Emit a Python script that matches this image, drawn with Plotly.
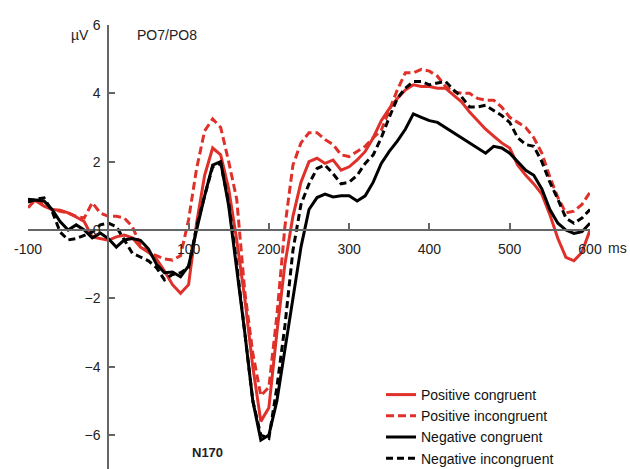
import plotly.graph_objects as go

times = list(range(-100, 601, 10))

pos_congruent = [0.85, 0.85, 0.7, 0.6, 0.58, 0.5, 0.38, 0.25, -0.2, -0.25,
                 -0.3, -0.2, -0.15, -0.23, -0.5, -0.65, -0.85, -1.2, -1.6, -1.85,
                 -1.6, 0.2, 1.6, 2.4, 2.2, 1.2, -0.3, -2.0, -4.0, -5.6,
                 -5.2, -3.0, -1.0, 0.4, 1.4, 2.0, 2.1, 1.95, 2.05, 1.75,
                 1.85, 2.05, 2.3, 2.7, 3.2, 3.55, 3.85, 4.1, 4.25, 4.2,
                 4.2, 4.15, 4.15, 3.95, 3.75, 3.45, 3.2, 2.95, 2.75, 2.55,
                 2.4, 1.9, 1.6, 1.35, 1.05, 0.45, -0.25, -0.8, -0.9, -0.65,
                 0.0]

pos_incongruent = [0.65, 0.9, 0.75, 0.6, 0.55, 0.5, 0.4, 0.35, 0.8, 0.5,
                   0.4, 0.4, 0.35, 0.1, -0.45, -0.65, -0.75, -0.85, -0.88, -0.75,
                   0.3, 1.8, 2.9, 3.25, 3.0, 2.0, 0.9, -1.8, -3.6, -4.85,
                   -4.6, -2.5, 0.1, 1.9, 2.55, 2.85, 2.85, 2.65, 2.5, 2.2,
                   2.15, 2.3, 2.45, 2.7, 2.92, 3.5, 4.1, 4.6, 4.6, 4.7,
                   4.65, 4.5, 4.2, 4.05, 4.0, 4.0, 3.85, 3.8, 3.8, 3.6,
                   3.3, 3.15, 3.0, 2.7, 2.25, 1.55, 0.95, 0.5, 0.55, 0.75,
                   1.1]

neg_congruent = [0.9, 0.88, 0.85, 0.6, 0.25, 0.0, 0.15, 0.0, -0.23, -0.09,
                 -0.25, -0.5, -0.29, -0.25, -0.3, -0.55, -1.0, -1.25, -1.23, -1.37,
                 -1.05, 0.0, 1.0, 1.9, 2.0, 0.7, -1.1, -3.0, -5.0, -6.15,
                 -6.0, -5.0, -3.5, -2.0, -0.5, 0.6, 0.95, 1.05, 0.97, 1.0,
                 1.0, 0.85, 1.0, 1.4, 1.95, 2.3, 2.6, 2.95, 3.4, 3.3,
                 3.2, 3.15, 3.0, 2.85, 2.7, 2.55, 2.4, 2.25, 2.45, 2.4,
                 2.25, 2.0, 1.75, 1.6, 1.2, 0.6, 0.2, 0.0, -0.1, -0.05,
                 0.2]

neg_incongruent = [0.82, 0.9, 0.94, 0.55, -0.06, -0.29, -0.25, -0.15, -0.06, 0.15,
                   0.2, 0.1, -0.3, -0.68, -0.79, -0.9, -1.1, -1.46, -1.3, -1.25,
                   -1.1, 0.1, 1.0, 1.85, 1.95, 0.8, -1.0, -3.0, -5.0, -6.0,
                   -6.1, -4.6, -2.8, -0.6, 0.75, 1.35, 1.8, 1.9, 1.65, 1.35,
                   1.4, 1.6, 1.95, 2.2, 2.7, 3.3, 3.85, 4.15, 4.35, 4.35,
                   4.25, 4.3, 4.35, 4.1, 3.9, 3.6, 3.6, 3.65, 3.5, 3.35,
                   3.15, 2.7, 2.5, 2.45, 2.0, 1.4, 0.9, 0.35, 0.2, 0.35,
                   0.6]

series_names = ["Positive congruent", "Positive incongruent",
                "Negative congruent", "Negative incongruent"]
x_tickvals = [-100, 100, 200, 300, 400, 500, 600]
x_ticktext = ["-100", "100", "200", "300", "400", "500", "600"]
y_tickvals = [-6, -4, -2, 0, 2, 4, 6]

RED = "#e0302a"
BLACK = "#000000"
FONT = "Liberation Sans, Arial, sans-serif"

W, H = 630, 469
styles = [
    dict(color=RED, width=3, dash="solid"),
    dict(color=RED, width=3, dash="8px,4px"),
    dict(color=BLACK, width=3, dash="solid"),
    dict(color=BLACK, width=3, dash="7px,4px"),
]
values = [pos_congruent, pos_incongruent, neg_congruent, neg_incongruent]

fig = go.Figure()
for name, vals, st in zip(series_names, values, styles):
    fig.add_trace(go.Scatter(x=times, y=vals, mode="lines", name=name, line=st))

fig.update_layout(
    width=W, height=H,
    margin=dict(l=0, r=0, t=0, b=0, autoexpand=False),
    paper_bgcolor="white", plot_bgcolor="white",
    font=dict(family=FONT, size=14, color="#222"),
    showlegend=True,
    legend=dict(x=381 / W, y=-5 / H, xanchor="left", yanchor="bottom",
                bgcolor="rgba(0,0,0,0)", font=dict(size=14, color="#111"),
                tracegroupgap=0, traceorder="normal"),
    xaxis=dict(domain=[28 / W, 590 / W], range=[-100, 600], anchor="free",
               position=1 - 230 / H, showgrid=False, zeroline=False, automargin=False,
               showline=True, linecolor="#666", linewidth=1.5,
               ticks="inside", ticklen=6, tickcolor="#666", tickwidth=1.5,
               tickvals=x_tickvals, ticktext=x_ticktext, ticklabelstandoff=6),
    yaxis=dict(domain=[0, 1 - 25 / H], range=[-6.994, 6], anchor="free",
               position=108 / W, showgrid=False, zeroline=False, automargin=False,
               showline=True, linecolor="#666", linewidth=1.5,
               ticks="inside", ticklen=6, tickcolor="#666", tickwidth=1.5,
               tickvals=y_tickvals, ticklabelstandoff=4),
)

fig.add_annotation(text="µV", x=69 / W, y=1 - 25 / H, xref="paper", yref="paper",
                   showarrow=False, font=dict(size=14, color="#222"))
fig.add_annotation(text="PO7/PO8", x=135 / W, y=1 - 25 / H, xref="paper", yref="paper",
                   xanchor="left", showarrow=False, font=dict(size=14, color="#222"))
fig.add_annotation(text="ms", x=606 / W, y=1 - 248 / H, xref="paper", yref="paper",
                   xanchor="left", showarrow=False, font=dict(size=14, color="#222"))
fig.add_annotation(text="<b>N170</b>", x=190 / W, y=1 - 462 / H, xref="paper", yref="paper",
                   showarrow=False, font=dict(size=13, color="#222"))

fig.write_html("out.html")
